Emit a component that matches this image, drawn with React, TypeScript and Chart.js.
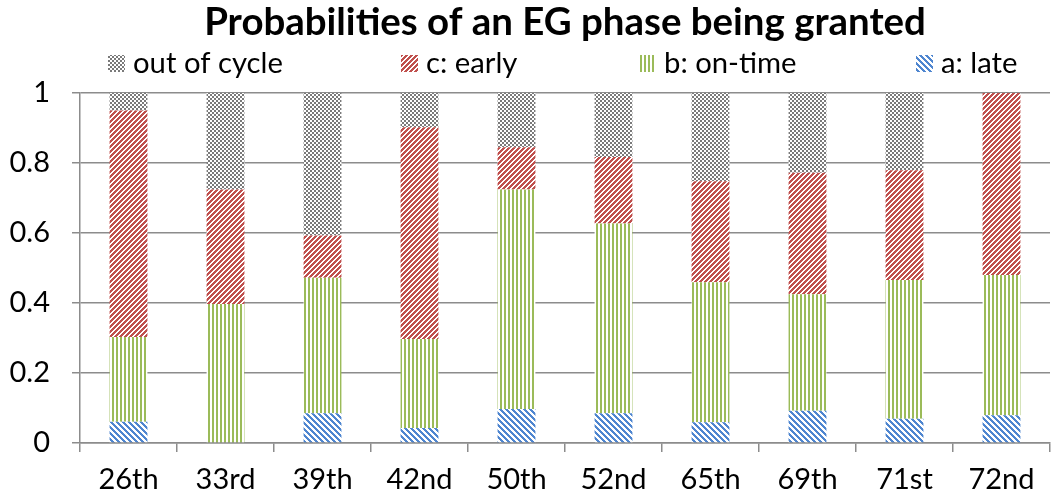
import React, { useEffect, useRef } from "react";
import { Chart, registerables } from "chart.js";

Chart.register(...registerables);

const categories = ["26th", "33rd", "39th", "42nd", "50th", "52nd", "65th", "69th", "71st", "72nd"];
const lateValues = [0.061, 0, 0.085, 0.043, 0.097, 0.085, 0.059, 0.092, 0.069, 0.079];
const onTimeValues = [0.242, 0.397, 0.387, 0.254, 0.627, 0.542, 0.4, 0.333, 0.397, 0.401];
const earlyValues = [0.647, 0.327, 0.121, 0.605, 0.121, 0.19, 0.289, 0.347, 0.313, 0.52];
const outOfCycleValues = [0.05, 0.276, 0.407, 0.098, 0.155, 0.183, 0.252, 0.228, 0.221, 0];
const yTicks = [0, 0.2, 0.4, 0.6, 0.8, 1];

const TITLE = "Probabilities of an EG phase being granted";
const FONT = "Lato, 'Open Sans', sans-serif";

function makePattern(kind: string): CanvasPattern | string {
  const size = kind === "late" ? 6 : kind === "early" ? 5 : 4;
  const c = document.createElement("canvas");
  c.width = size;
  c.height = size;
  const g = c.getContext("2d");
  if (!g) return "#888";
  g.fillStyle = "#ffffff";
  g.fillRect(0, 0, size, size);
  for (let y = 0; y < size; y++) {
    for (let x = 0; x < size; x++) {
      let on = false;
      let col = "#000";
      if (kind === "out") {
        on = (Math.floor(x / 2) + Math.floor(y / 2)) % 2 === 0;
        col = "#7a7a7a";
      } else if (kind === "early") {
        on = (x + y) % 5 < 3;
        col = "#c0504d";
      } else if (kind === "ontime") {
        on = x % 4 < 2;
        col = "#9bbb59";
      } else if (kind === "late") {
        on = ((x - y) % 6 + 6) % 6 < 3;
        col = "#4f86d0";
      }
      if (on) {
        g.fillStyle = col;
        g.fillRect(x, y, 1, 1);
      }
    }
  }
  const p = g.createPattern(c, "repeat");
  return p || "#888";
}

function fitFont(ctx: CanvasRenderingContext2D, text: string, weight: string, target: number): number {
  ctx.font = `${weight} 100px ${FONT}`;
  const w = ctx.measureText(text).width;
  return w > 0 ? (100 * target) / w : 30;
}

export default function App() {
  const ref = useRef<HTMLCanvasElement | null>(null);

  useEffect(() => {
    if (!ref.current) return;
    const pOut = makePattern("out");
    const pEarly = makePattern("early");
    const pOnTime = makePattern("ontime");
    const pLate = makePattern("late");

    const legendItems = [
      { label: "out of cycle", fill: pOut, x: 108 },
      { label: "c: early", fill: pEarly, x: 401 },
      { label: "b: on-time", fill: pOnTime, x: 639 },
      { label: "a: late", fill: pLate, x: 916 },
    ];

    const headerPlugin = {
      id: "header",
      afterDraw(chart: any) {
        const ctx = chart.ctx;
        const area = chart.chartArea;
        ctx.save();
        const titleSize = fitFont(ctx, TITLE, "bold", 722);
        const legendSize = fitFont(ctx, "out of cycle", "normal", 150);
        ctx.fillStyle = "#000";
        ctx.textBaseline = "middle";
        ctx.textAlign = "center";
        ctx.font = `bold ${titleSize}px ${FONT}`;
        ctx.fillText(TITLE, (area.left + area.right) / 2, 23);
        ctx.textAlign = "left";
        ctx.font = `normal ${legendSize}px ${FONT}`;
        for (const it of legendItems) {
          ctx.fillStyle = it.fill;
          ctx.fillRect(it.x, 55, 17, 17);
          ctx.fillStyle = "#000";
          ctx.fillText(it.label, it.x + 25, 64);
        }
        ctx.restore();
      },
    };

    const common = { barPercentage: 0.39, categoryPercentage: 1, borderWidth: 0 };

    const chart = new Chart(ref.current, {
      type: "bar",
      data: {
        labels: categories,
        datasets: [
          { label: "a: late", data: lateValues, backgroundColor: pLate as any, ...common },
          { label: "b: on-time", data: onTimeValues, backgroundColor: pOnTime as any, ...common },
          { label: "c: early", data: earlyValues, backgroundColor: pEarly as any, ...common },
          { label: "out of cycle", data: outOfCycleValues, backgroundColor: pOut as any, ...common },
        ],
      },
      options: {
        animation: false,
        responsive: false,
        maintainAspectRatio: false,
        layout: { padding: { top: 93, right: 5, left: 0, bottom: 0 } },
        plugins: {
          legend: { display: false },
          title: { display: false },
          tooltip: { enabled: false },
        },
        scales: {
          x: {
            stacked: true,
            grid: {
              offset: true,
              drawOnChartArea: false,
              drawTicks: true,
              tickLength: 9,
              color: "#8c8c8c",
              lineWidth: 1.5,
            },
            border: { display: true, color: "#8c8c8c", width: 1.5 },
            ticks: {
              color: "#000",
              font: { family: FONT, size: 29 },
              padding: 10,
              maxRotation: 0,
            },
            afterFit(scale: any) {
              scale.height = 56;
            },
          },
          y: {
            stacked: true,
            min: 0,
            max: 1,
            afterBuildTicks(scale: any) {
              scale.ticks = yTicks.map((v) => ({ value: v }));
            },
            grid: {
              color: "#8c8c8c",
              lineWidth: 1.5,
              drawTicks: true,
              tickLength: 8,
            },
            border: { display: true, color: "#8c8c8c", width: 1.5 },
            ticks: {
              color: "#000",
              font: { family: FONT, size: 29 },
              padding: 22,
              callback: (v: any) => String(Number(v)),
            },
            afterFit(scale: any) {
              scale.width = 80;
            },
          },
        },
      },
      plugins: [headerPlugin],
    });
    return () => chart.destroy();
  }, []);

  return (
    <div style={{ position: "fixed", left: 0, top: 0, width: 1055, height: 499, background: "#fff" }}>
      <canvas ref={ref} width={1055} height={499} style={{ width: 1055, height: 499, display: "block" }} />
    </div>
  );
}
